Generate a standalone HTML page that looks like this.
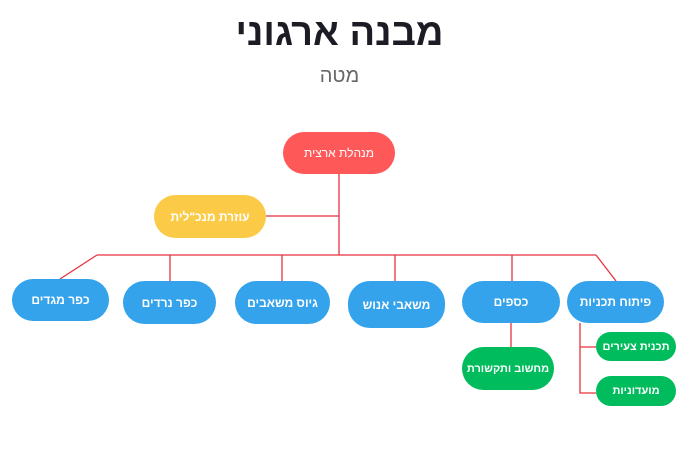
<!DOCTYPE html>
<html><head><meta charset="utf-8"><style>
body{margin:0;width:699px;height:475px;background:#fff;position:relative;overflow:hidden;font-family:"Liberation Sans","DejaVu Sans",sans-serif}
.t{position:absolute;left:0;width:679px;text-align:center}
.n{position:absolute;display:flex;align-items:center;justify-content:center;color:#fff;font-weight:bold;font-size:12px;border-radius:22px;direction:rtl;white-space:nowrap}
.b{background:#35a3ec}.g{background:#00bc5c}
</style></head><body>
<div class="t" style="top:12px;font-size:38px;font-weight:bold;color:#1c1c24">מבנה ארגוני</div>
<div class="t" style="top:65px;font-size:20px;color:#666">מטה</div>
<svg width="699" height="475" style="position:absolute;left:0;top:0" fill="none" stroke="#e8323e" stroke-width="1.3">
<path d="M339 174V255M266 216H339M97 255H596M97 255L60 279M170 255V281M282 255V281M395 255V281M512 255V281M596 255L616 281M511 323V347M580 323V393H596M580 347H596"/>
</svg>
<div class="n" style="left:283px;top:132px;width:112px;height:42px;background:#ff5858;font-weight:normal">מנהלת ארצית</div>
<div class="n" style="left:154px;top:195px;width:112px;height:43px;background:#fbcb48">עוזרת מנכ"לית</div>
<div class="n b" style="left:12px;top:279px;width:97px;height:42px">כפר מגדים</div>
<div class="n b" style="left:123px;top:281px;width:93px;height:43px">כפר נרדים</div>
<div class="n b" style="left:235px;top:281px;width:95px;height:43px">גיוס משאבים</div>
<div class="n b" style="left:348px;top:281px;width:97px;height:47px">משאבי אנוש</div>
<div class="n b" style="left:462px;top:281px;width:98px;height:42px">כספים</div>
<div class="n b" style="left:567px;top:281px;width:97px;height:42px">פיתוח תכניות</div>
<div class="n g" style="left:462px;top:347px;width:92px;height:43px;font-size:11px">מחשוב ותקשורת</div>
<div class="n g" style="left:596px;top:332px;width:80px;height:29px;border-radius:15px;font-size:11px">תכנית צעירים</div>
<div class="n g" style="left:596px;top:376px;width:80px;height:30px;border-radius:15px;font-size:11px">מועדוניות</div>
</body></html>
